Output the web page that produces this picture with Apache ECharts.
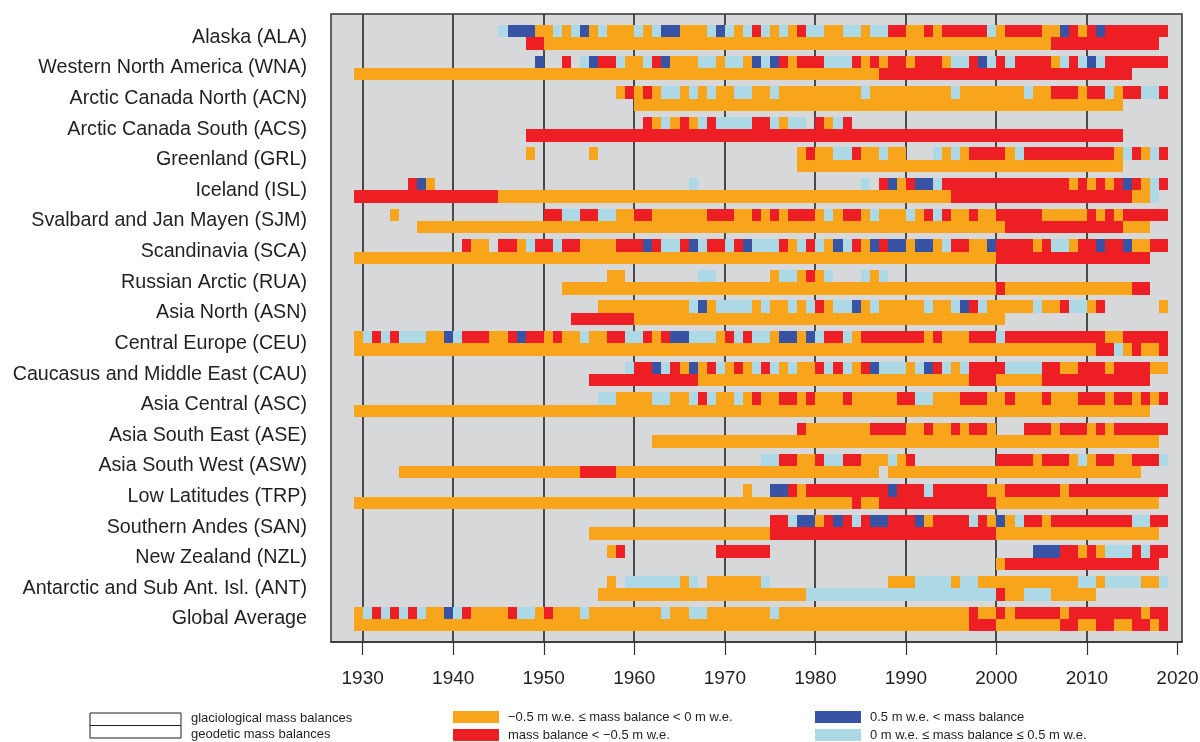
<!DOCTYPE html>
<html>
<head>
<meta charset="utf-8">
<title>Glacier mass balance observations</title>
<script src="https://cdn.jsdelivr.net/npm/echarts@6/dist/echarts.min.js"></script>
<style>
  html, body { margin: 0; padding: 0; background: #fff; }
  #chart { width: 1200px; height: 742px; }
</style>
</head>
<body>
<div id="chart"></div>
<script>
// regions, top to bottom
var regions = [
  'Alaska (ALA)', 'Western North America (WNA)', 'Arctic Canada North (ACN)',
  'Arctic Canada South (ACS)', 'Greenland (GRL)', 'Iceland (ISL)',
  'Svalbard and Jan Mayen (SJM)', 'Scandinavia (SCA)', 'Russian Arctic (RUA)',
  'Asia North (ASN)', 'Central Europe (CEU)', 'Caucasus and Middle East (CAU)',
  'Asia Central (ASC)', 'Asia South East (ASE)', 'Asia South West (ASW)',
  'Low Latitudes (TRP)', 'Southern Andes (SAN)', 'New Zealand (NZL)',
  'Antarctic and Sub Ant. Isl. (ANT)', 'Global Average'
]

// glaciological mass balance class per year, one char per year from 1929
// (groups: 1929 | 1930s | 1940s | ... | 2010s), '.' = no value
// o: -0.5 <= B < 0, r: B < -0.5, d: B > 0.5, l: 0 <= B <= 0.5
var firstYear = 1929
var glaciological = [
  '. .......... .....ldddo ololdolooo lolddooold lolrlolorl loollollrr oororrrrrl orrrroodro rdrrrrrrr',
  '. .......... .........d ..r.ldrrlo olrdooollo llodldrorr rlllrororr orrrollrdl rlrrrrolrl dlrrrrrrr',
  '. .......... .......... ........or orollololo ollooloooo oooooloooo oooooloooo oooloorrro rrlorrllr',
  '. .......... .......... .......... .rolorolrl lllrrloll. rolr...... .......... .......... .........',
  '. .......... ........o. .....o.... .......... ........or oollrooloo ...lolorrr rolrrrrrrr rrrolrolr',
  '. .....rdo.. .......... .......... ......l... .......... .....l.rdo rddlrrrrrr rrrrrrrror orordrolr',
  '. ...o...... .......... rrllrrlloo rroooooorr roorororrr olorrolooo lorlrooroo rrrrrooooo rororrrrr',
  '. .......... .roo.rrolr rlrroooorr rdrllrdlrr lrdlllrolr lodlrodrdd oddolrrood rrrrorllor rdrrdoorr',
  '. .......... .......... .......oo. .......ll. .....ollor ol...lol.. .......... .......... .........',
  '. .......... .......... ......oooo ooooooldol llloloolol rolldolooo oolooldrlo ooooloorll or......o',
  'o lrlrlllood lrrroordrr orooloorrl lrorddlllo rlrlloddod lrrlorrrrr rrorooorrr lrrrrrrrrr rroorrrrr',
  '. .......... .......... .........l rrdlrodorl orolrloloo rlrlordlll oldrlolrrr rllllrroor rrorrrroo',
  '. .......... .......... ......lloo oolloolrlo oloroorror ooorooooor rllooorrro orooorooor rrorroror',
  '. .......... .......... .......... .......... ........ro oooooorrrr ooroororro ...rrrorrr ororrrrrr',
  '. .......... .......... .......... .......... ....llrroo rllrrooolo r......... rrrrorrrol orroorrrl',
  '. .......... .......... .......... .......... ..o..ddror rrrrrrrrdr rrlrrrrrro orrrrrrorr rrrrrrrrr',
  '. .......... .......... .......... .......... .....rrldd ordrlrddrr rdorrrrlro dolrrorrrr rrrrrllrr',
  '. .......... .......... .......or. .........r rrrrr..... .......... .......... ....dddrro rolllrlrr',
  '. .......... .......... .......o.l lllllol.oo ooool..... ........oo ollllolloo oooooooool lollllool',
  'o lrlrlrlood lroooorllo rooolooooo oooloolloo oooooloooo oooooooooo oooooooroo rorrrrrorr rrrrrrorr'
]

// geodetic mass balance periods: [from, to, class]
var geodetic = [
  [[1948, 1950, 'r'], [1950, 2006, 'o'], [2006, 2018, 'r']],
  [[1929, 1987, 'o'], [1987, 2015, 'r']],
  [[1960, 2014, 'o']],
  [[1948, 2014, 'r']],
  [[1978, 2014, 'o']],
  [[1929, 1945, 'r'], [1945, 1995, 'o'], [1995, 2015, 'r'], [2015, 2017, 'o'], [2017, 2018, 'l']],
  [[1936, 2001, 'o'], [2001, 2014, 'r'], [2014, 2017, 'o']],
  [[1929, 2000, 'o'], [2000, 2017, 'r']],
  [[1952, 2000, 'o'], [2000, 2001, 'r'], [2001, 2015, 'o'], [2015, 2017, 'r']],
  [[1953, 1960, 'r'], [1960, 2001, 'o']],
  [[1929, 2011, 'o'], [2011, 2013, 'r'], [2013, 2014, 'l'], [2014, 2015, 'o'], [2015, 2016, 'r'], [2016, 2018, 'o'], [2018, 2019, 'r']],
  [[1955, 1967, 'r'], [1967, 1997, 'o'], [1997, 2000, 'r'], [2000, 2005, 'o'], [2005, 2017, 'r']],
  [[1929, 2017, 'o']],
  [[1962, 2018, 'o']],
  [[1934, 1954, 'o'], [1954, 1958, 'r'], [1958, 1987, 'o'], [1988, 2016, 'o']],
  [[1929, 1984, 'o'], [1984, 1985, 'r'], [1985, 1987, 'o'], [1987, 2000, 'r'], [2000, 2018, 'o']],
  [[1955, 1975, 'o'], [1975, 2000, 'r'], [2000, 2018, 'o']],
  [[2000, 2001, 'o'], [2001, 2018, 'r']],
  [[1956, 1979, 'o'], [1979, 2000, 'l'], [2000, 2001, 'r'], [2001, 2003, 'o'], [2003, 2006, 'l'], [2006, 2011, 'o']],
  [[1929, 1997, 'o'], [1997, 2000, 'r'], [2000, 2007, 'o'], [2007, 2009, 'r'], [2009, 2011, 'o'], [2011, 2013, 'r'], [2013, 2015, 'o'], [2015, 2017, 'r'], [2017, 2018, 'o'], [2018, 2019, 'r']]
]

var tickYears = [1930, 1940, 1950, 1960, 1970, 1980, 1990, 2000, 2010, 2020]
var gridYears = [1930, 1940, 1950, 1960, 1970, 1980, 1990, 2000, 2010]

var classes = ['o', 'r', 'd', 'l']
var classLabels = [
  '\u22120.5 m w.e. \u2264 mass balance < 0 m w.e.',
  'mass balance < \u22120.5 m w.e.',
  '0.5 m w.e. < mass balance',
  '0 m w.e. \u2264 mass balance \u2264 0.5 m w.e.'
]
var classColors = ['#f9a51b', '#ee1f24', '#3953a4', '#add8e6']

var FONT = 'Arial, "Liberation Sans", Helvetica, sans-serif'
var Y_MIN = -0.761
var Y_MAX = 19.751
var ROW = 0.405

// build cells: [from, to, region, row (0 glac / 1 geod), classIndex]
var cells = []
glaciological.forEach(function (str, r) {
  var s = str.replace(/ /g, '')
  var i = 0
  while (i < s.length) {
    var c = s[i]
    var j = i
    while (j < s.length && s[j] === c) j++
    if (c !== '.') {
      cells.push([firstYear + i, firstYear + j, r, 0, classes.indexOf(c)])
    }
    i = j
  }
})
geodetic.forEach(function (spans, r) {
  spans.forEach(function (p) {
    cells.push([p[0], p[1], r, 1, classes.indexOf(p[2])])
  })
})

function renderCell (params, api) {
  var r = api.value(2)
  var top = api.value(3) === 0 ? r - ROW : r
  var a = api.coord([api.value(0), top])
  var b = api.coord([api.value(1), top + ROW])
  var x = Math.round(a[0])
  var y = Math.round(a[1])
  return {
    type: 'rect',
    shape: { x: x, y: y, width: Math.round(b[0]) - x, height: Math.round(b[1]) - y },
    style: { fill: classColors[api.value(4)] }
  }
}

function renderGridLine (params, api) {
  var a = api.coord([api.value(0), Y_MIN])
  var b = api.coord([api.value(0), Y_MAX])
  var x = Math.round(a[0])
  return {
    type: 'line',
    shape: { x1: x, y1: a[1], x2: x, y2: b[1] },
    style: { stroke: '#3a3a3a', lineWidth: 1.8 }
  }
}

var chart = echarts.init(document.getElementById('chart'))

var legendItems = [
  { type: 'rect', shape: { x: 90, y: 713, width: 91, height: 12.5 }, style: { fill: '#fff', stroke: '#231f20', lineWidth: 1 } },
  { type: 'rect', shape: { x: 90, y: 725.5, width: 91, height: 12.5 }, style: { fill: '#fff', stroke: '#231f20', lineWidth: 1 } },
  { type: 'text', x: 191, y: 718, style: { text: 'glaciological mass balances', font: '13px ' + FONT, fill: '#231f20', verticalAlign: 'middle' } },
  { type: 'text', x: 191, y: 734, style: { text: 'geodetic mass balances', font: '13px ' + FONT, fill: '#231f20', verticalAlign: 'middle' } }
]
var legendPos = [[453, 711], [453, 729], [815, 711], [815, 729]]
classLabels.forEach(function (label, k) {
  var p = legendPos[k]
  legendItems.push({ type: 'rect', shape: { x: p[0], y: p[1], width: 46, height: 12 }, style: { fill: classColors[k] } })
  legendItems.push({ type: 'text', x: p[0] + 55, y: p[1] + 6, style: { text: label, font: '13px ' + FONT, fill: '#231f20', verticalAlign: 'middle' } })
})

chart.setOption({
  animation: false,
  backgroundColor: '#ffffff',
  textStyle: { fontFamily: FONT },
  grid: {
    left: 331,
    right: 18,
    top: 14,
    bottom: 100,
    outerBoundsMode: 'none',
    containLabel: false,
    show: true,
    backgroundColor: '#d7d8da',
    borderColor: '#333333',
    borderWidth: 1.5
  },
  xAxis: {
    type: 'value',
    min: 1926.5,
    max: 2020.5,
    axisLine: { show: true, onZero: false, lineStyle: { color: '#333333', width: 1.5 } },
    axisTick: { show: true, customValues: tickYears, length: 13, lineStyle: { color: '#333333', width: 1.2 } },
    axisLabel: {
      customValues: tickYears,
      formatter: function (v) { return String(v) },
      fontSize: 19,
      color: '#231f20',
      margin: 27,
      fontFamily: FONT
    },
    splitLine: { show: false }
  },
  yAxis: {
    type: 'value',
    inverse: true,
    min: Y_MIN,
    max: Y_MAX,
    axisLine: { show: false },
    axisTick: { show: false },
    splitLine: { show: false },
    axisLabel: {
      customValues: regions.map(function (d, i) { return i }),
      formatter: function (v) { return regions[Math.round(v)] },
      fontSize: 19.7,
      color: '#231f20',
      margin: 24,
      fontFamily: FONT
    }
  },
  series: [
    {
      type: 'custom',
      name: 'grid',
      silent: true,
      renderItem: renderGridLine,
      encode: { x: 0 },
      data: gridYears.map(function (y) { return [y] }),
      z: 1
    },
    {
      type: 'custom',
      name: 'mass balance',
      renderItem: renderCell,
      encode: { x: [0, 1], y: 2 },
      data: cells,
      z: 2
    }
  ],
  graphic: legendItems
})
</script>
</body>
</html>
